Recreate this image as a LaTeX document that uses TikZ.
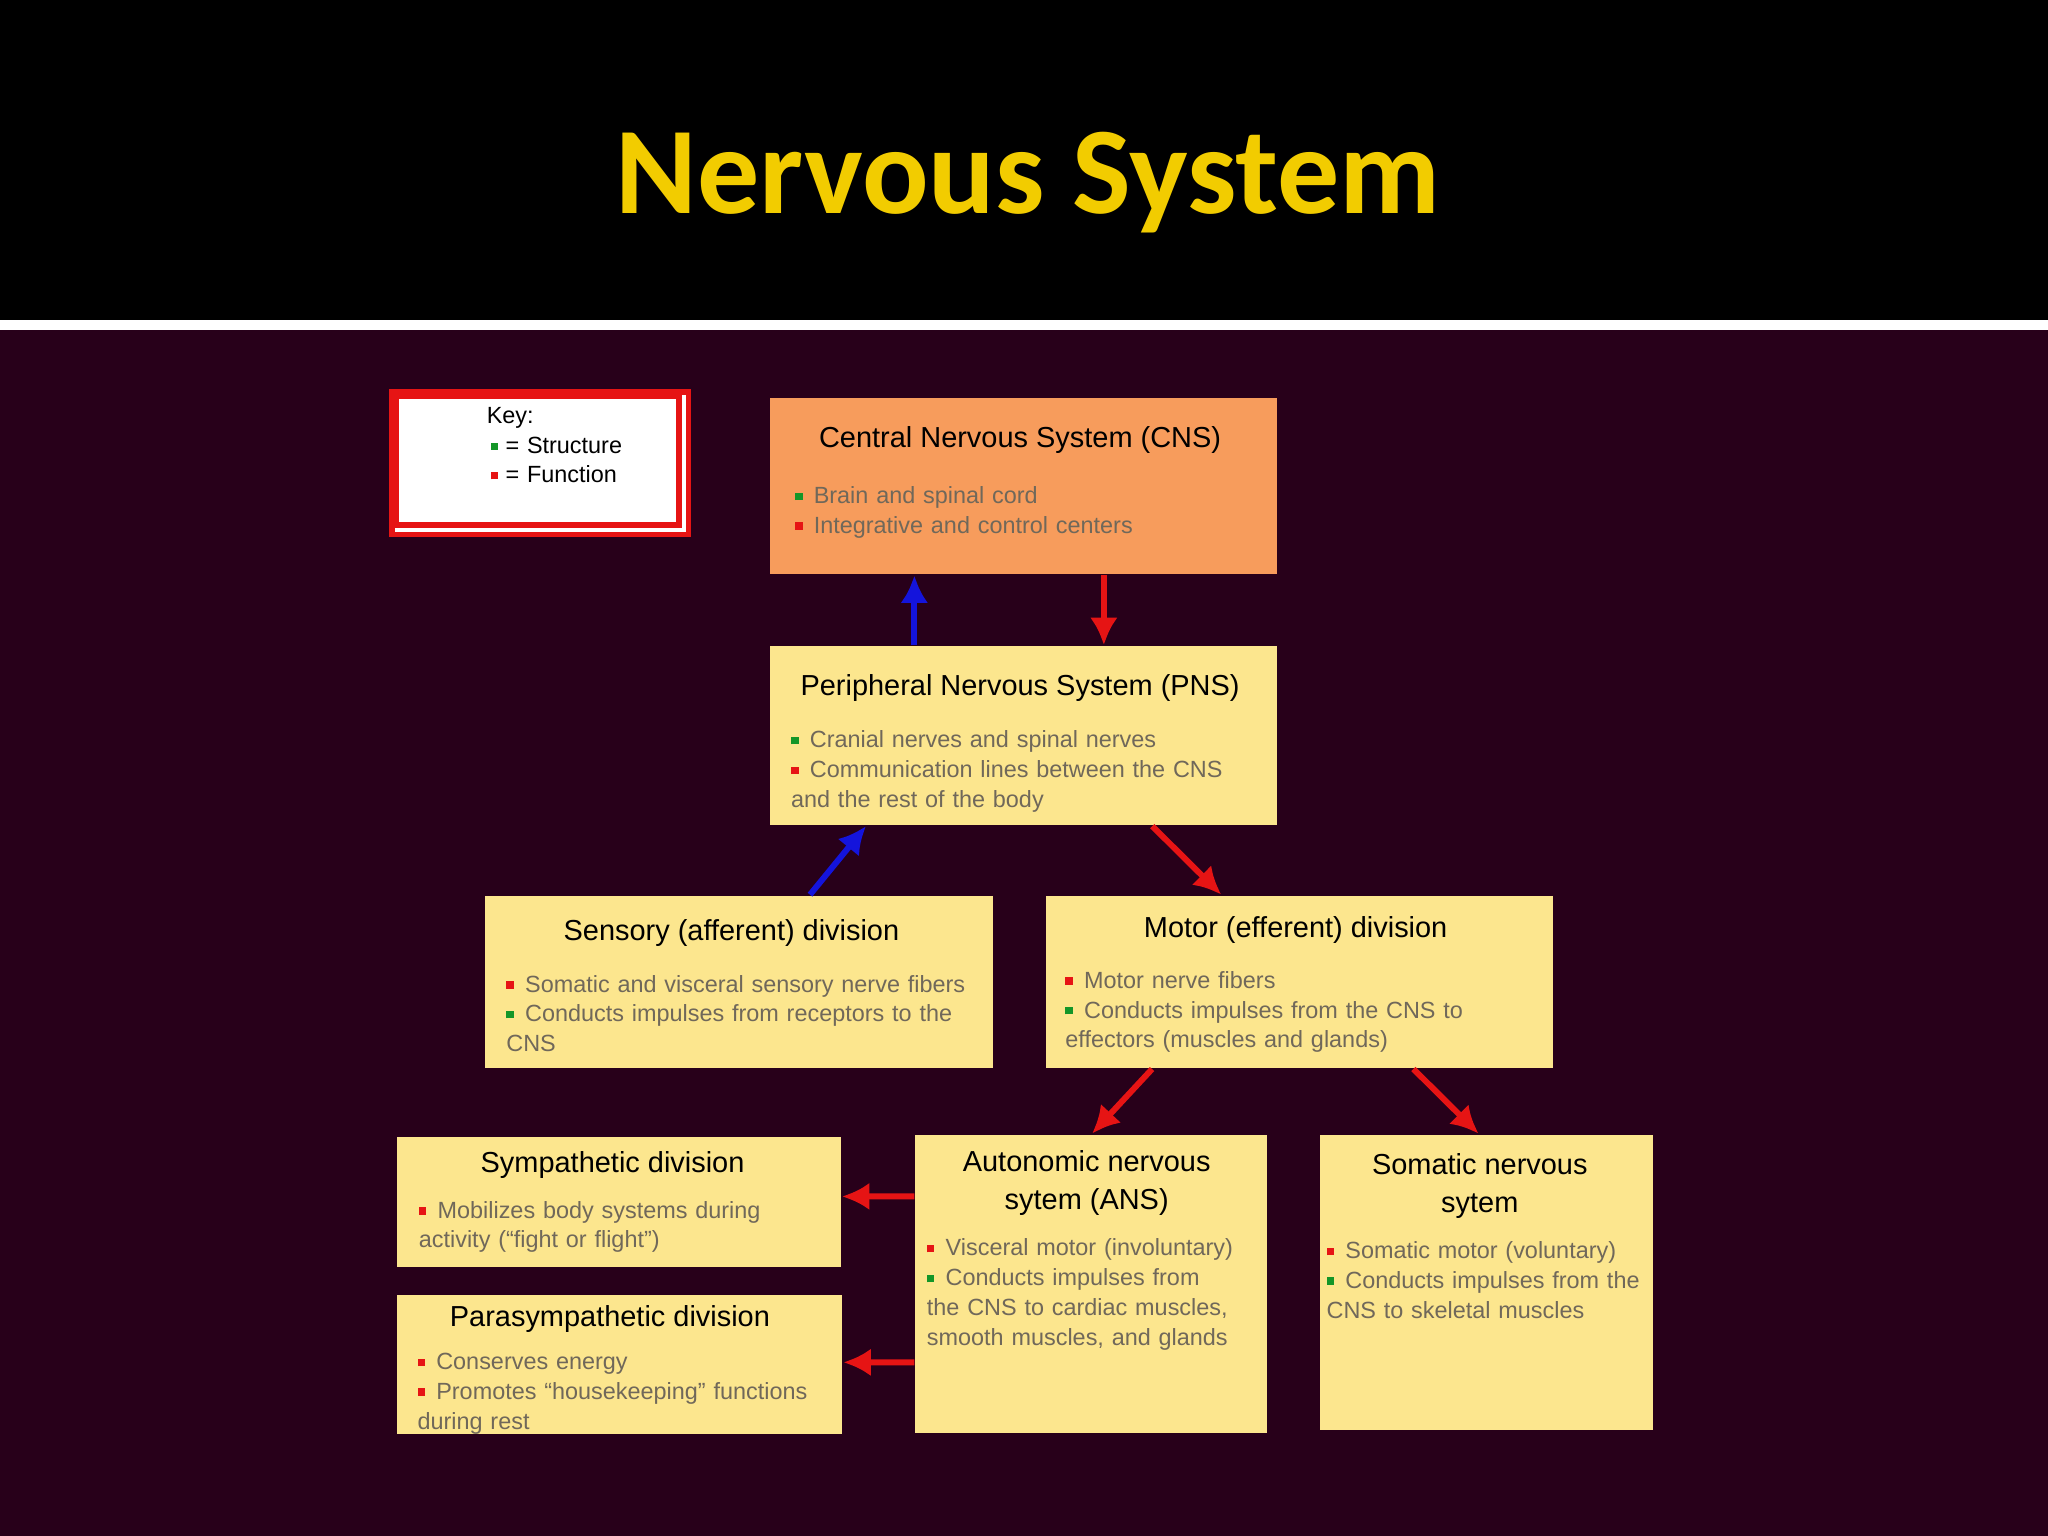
\documentclass[tikz,border=0pt]{standalone}
\usepackage{fontspec}
\setmainfont{Liberation Sans}
\newfontfamily\titlefont{Carlito}
\usetikzlibrary{arrows.meta}
\definecolor{bg}{RGB}{40,0,26}
\definecolor{orangebox}{RGB}{247,156,92}
\definecolor{yelbox}{RGB}{252,230,142}
\definecolor{bodytxt}{RGB}{112,104,90}
\definecolor{ttl}{RGB}{242,204,0}
\definecolor{grn}{RGB}{20,150,40}
\definecolor{rd}{RGB}{230,20,20}
\definecolor{blu}{RGB}{20,20,220}
\newcommand\itm[2]{\par\hangindent=0.8em\hangafter=1\noindent\makebox[0.8em][l]{\textcolor{#1}{\rule[0.15em]{0.32em}{0.32em}}}#2}
\tikzset{
 box/.style={draw=none,fill=yelbox,inner sep=0},
 ttlnode/.style={anchor=center,align=center,inner sep=0,font=\fontsize{6.3}{8.2}\selectfont,text=black},
 bodynode/.style={anchor=north west,inner sep=0,font=\fontsize{5.1}{6.5}\selectfont,text=bodytxt},
 rarr/.style={draw=rd,line width=1.3pt,-{Latex[length=6pt,width=6pt]}},
 barr/.style={draw=blu,line width=1.3pt,-{Latex[length=6pt,width=6pt]}},
}
\begin{document}
\begin{tikzpicture}[x=0.01cm,y=-0.01cm]
\fill[bg] (0,0) rectangle (1568,1176);
\fill[black] (0,0) rectangle (1568,245);
\fill[white] (0,245) rectangle (1568,253);
\node[text=ttl,font=\titlefont\bfseries\fontsize{27}{30}\selectfont,inner sep=0] (title) at (787,140) {Nervous System};
% key
\node[draw=rd,line width=1.2pt,fill=white,minimum width=2.27cm,minimum height=1.09cm,inner sep=0,anchor=north west] (key) at (298,298) {};
\draw[rd,line width=1.2pt] (303,303) rectangle (520,402);
\node[bodynode,text=black,text width=1.3cm] (keyt) at (372,311) {Key:\par\noindent\makebox[0.8em][l]{\,\textcolor{grn}{\rule[0.15em]{0.3em}{0.3em}}}= Structure\par\noindent\makebox[0.8em][l]{\,\textcolor{rd}{\rule[0.15em]{0.3em}{0.3em}}}= Function};
% boxes
\node[box,fill=orangebox,minimum width=3.88cm,minimum height=1.35cm,anchor=north west] (cns) at (589,304) {};
\node[box,minimum width=3.88cm,minimum height=1.37cm,anchor=north west] (pns) at (589,494) {};
\node[box,minimum width=3.88cm,minimum height=1.32cm,anchor=north west] (sen) at (371,685) {};
\node[box,minimum width=3.88cm,minimum height=1.32cm,anchor=north west] (mot) at (800,685) {};
\node[box,minimum width=3.40cm,minimum height=0.99cm,anchor=north west] (sym) at (303,870) {};
\node[box,minimum width=3.41cm,minimum height=1.06cm,anchor=north west] (par) at (303,991) {};
\node[box,minimum width=2.69cm,minimum height=2.28cm,anchor=north west] (ans) at (700,868) {};
\node[box,minimum width=2.55cm,minimum height=2.26cm,anchor=north west] (som) at (1010,868) {};
% texts
\node[ttlnode] (cnst) at (781,337) {Central Nervous System (CNS)};
\node[bodynode,text width=3.5cm] (cnsb) at (608,362) {\itm{grn}{Brain and spinal cord}\itm{rd}{Integrative and control centers}};
\node[ttlnode] (pnst) at (781,527) {Peripheral Nervous System (PNS)};
\node[bodynode,text width=3.5cm] (pnsb) at (605,549) {\itm{grn}{Cranial nerves and spinal nerves}\itm{rd}{Communication lines between the CNS and the rest of the body}};
\node[ttlnode] (sent) at (560,714) {Sensory (afferent) division};
\node[bodynode,text width=3.66cm] (senb) at (387,736) {\itm{rd}{Somatic and visceral sensory nerve fibers}\itm{grn}{Conducts impulses from receptors to the CNS}};
\node[ttlnode] (mott) at (992,712) {Motor (efferent) division};
\node[bodynode,text width=3.3cm] (motb) at (815,733) {\itm{rd}{Motor nerve fibers}\itm{grn}{Conducts impulses from the CNS to effectors (muscles and glands)}};
\node[ttlnode] (symt) at (469,892) {Sympathetic division};
\node[bodynode,text width=2.9cm] (symb) at (320,909) {\itm{rd}{Mobilizes body systems during activity (``fight or flight'')}};
\node[ttlnode] (part) at (467,1010) {Parasympathetic division};
\node[bodynode,text width=3.1cm] (parb) at (319,1025) {\itm{rd}{Conserves energy}\itm{rd}{Promotes ``housekeeping'' functions during rest}};
\node[ttlnode] (anst) at (832,906) {Autonomic nervous\\sytem (ANS)};
\node[bodynode,text width=2.55cm] (ansb) at (709,938) {\itm{rd}{Visceral motor (involuntary)}\itm{grn}{Conducts impulses from the CNS to cardiac muscles, smooth muscles, and glands}};
\node[ttlnode] (somt) at (1133,908) {Somatic nervous\\sytem};
\node[bodynode,text width=2.45cm] (somb) at (1015,940) {\itm{rd}{Somatic motor (voluntary)}\itm{grn}{Conducts impulses from the CNS to skeletal muscles}};
% arrows
\draw[barr] ([xshift=1.11cm]pns.north west) -- ([xshift=1.11cm]cns.south west);
\draw[rarr] ([xshift=2.56cm]cns.south west) -- ([xshift=2.56cm]pns.north west);
\draw[barr] ([xshift=2.49cm]sen.north west) -- ([xshift=0.74cm]pns.south west);
\draw[rarr] ([xshift=2.93cm]pns.south west) -- ([xshift=1.35cm]mot.north west);
\draw[rarr] ([xshift=0.82cm]mot.south west) -- ([xshift=1.36cm]ans.north west);
\draw[rarr] ([xshift=2.82cm]mot.south west) -- ([xshift=1.22cm]som.north west);
\draw[rarr] ([yshift=-0.48cm]ans.north west) -- ([yshift=-0.46cm]sym.north east);
\draw[rarr] ([yshift=-1.75cm]ans.north west) -- ([yshift=-0.52cm]par.north east);
\end{tikzpicture}
\end{document}
